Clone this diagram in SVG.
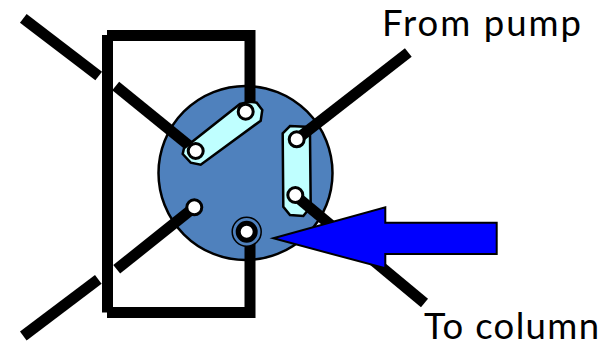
<svg xmlns="http://www.w3.org/2000/svg" width="616" height="347" viewBox="0 0 616 347">
<style>
.pipe{fill:none;stroke:#000;stroke-width:11}
.pill{fill:#bfffff;stroke:#000;stroke-width:2.5}
.hole{fill:#fff;stroke:#000;stroke-width:3}
.lbl{font-family:"Lato","Open Sans",sans-serif;font-size:36.5px;fill:#000}
</style>
<rect width="616" height="347" fill="#fff"/>
<g id="rotor"><circle cx="245.5" cy="173" r="87" fill="#4f81bd" stroke="#000" stroke-width="2.5"/></g>
<g id="connectors">
<path class="pipe" d="M23.3 18.3L98.7 76"/>
<path class="pipe" d="M115.7 86L195.7 151"/>
<path class="pipe" d="M23.3 336L98.3 279.3"/>
<path class="pipe" d="M116.7 269.3L194.3 207.3"/>
<path class="pipe" d="M107.5 35V312.5"/>
<path class="pipe" d="M107 35.5H250V112"/>
<path class="pipe" d="M107 312.5H250V232"/>
</g>
<g id="slot-left"><path class="pill" d="M250 101.7L256.7 102.7L262.3 110L260.7 120.7L200.7 164.7L190.7 162.7L182.7 154L184 148.3L240 104Z"/></g>
<g id="slot-right"><path class="pill" d="M282.7 133.3L290 126L305 126.7L310 135L310.7 206.7L303.3 216L290 215L283.3 206.7Z"/></g>
<g id="connectors-over">
<path class="pipe" d="M296.7 139.3L408.3 52.5"/>
<path class="pipe" d="M297 197L424.5 303"/>
</g>
<g id="port-a"><circle class="hole" cx="245.7" cy="111.7" r="7.5"/></g>
<g id="port-b"><circle class="hole" cx="195.7" cy="151" r="7.5"/></g>
<g id="port-c"><circle class="hole" cx="296.7" cy="139.3" r="7.5"/></g>
<g id="port-d"><circle class="hole" cx="295.3" cy="195" r="7.5"/></g>
<g id="port-e"><circle class="hole" cx="194.3" cy="207.3" r="7.5"/></g>
<g id="port-f">
<circle cx="246.7" cy="231.7" r="14.5" fill="#4f81bd" stroke="#000" stroke-width="1.5"/>
<circle cx="246.7" cy="231.7" r="8.5" fill="#fff" stroke="#000" stroke-width="5"/>
</g>
<g id="arrow"><path d="M273.3 238.3L385.3 207.3V222.7H496.7V254H385.3V268.3Z" fill="#00f" stroke="#000" stroke-width="2"/></g>
<g id="label-from"><text class="lbl" x="382" y="36.3" textLength="199">From pump</text></g>
<g id="label-to"><text class="lbl" x="424" y="339" textLength="175">To column</text></g>
</svg>
